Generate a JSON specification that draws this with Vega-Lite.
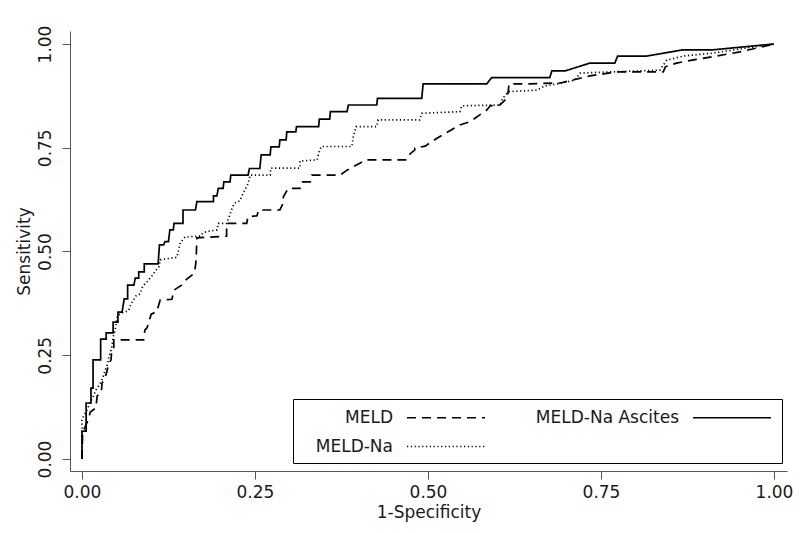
{
  "$schema": "https://vega.github.io/schema/vega-lite/v6.json",
  "width": 717,
  "height": 440,
  "autosize": {"type": "none"},
  "padding": {"left": 70, "top": 31, "right": 13, "bottom": 62},
  "background": "white",
  "config": {
    "view": {"stroke": null},
    "font": "DejaVu Sans",
    "axis": {
      "grid": false,
      "domainColor": "#555555",
      "tickColor": "#555555",
      "domainWidth": 1,
      "tickWidth": 1,
      "tickSize": 8,
      "labelFont": "DejaVu Sans",
      "labelFontSize": 17,
      "labelColor": "#1a1a1a",
      "titleFont": "DejaVu Sans",
      "titleFontSize": 17,
      "titleFontWeight": "normal",
      "titleColor": "#1a1a1a",
      "labelFlush": false,
      "labelOverlap": false
    }
  },
  "data": {
    "values": [
      {"series": "MELD-Na Ascites", "i": 0, "fpr": 0, "tpr": 0},
      {"series": "MELD-Na Ascites", "i": 1, "fpr": 0, "tpr": 0.067},
      {"series": "MELD-Na Ascites", "i": 2, "fpr": 0.006, "tpr": 0.067},
      {"series": "MELD-Na Ascites", "i": 3, "fpr": 0.006, "tpr": 0.135},
      {"series": "MELD-Na Ascites", "i": 4, "fpr": 0.013, "tpr": 0.135},
      {"series": "MELD-Na Ascites", "i": 5, "fpr": 0.013, "tpr": 0.171},
      {"series": "MELD-Na Ascites", "i": 6, "fpr": 0.016, "tpr": 0.171},
      {"series": "MELD-Na Ascites", "i": 7, "fpr": 0.016, "tpr": 0.239},
      {"series": "MELD-Na Ascites", "i": 8, "fpr": 0.027, "tpr": 0.239},
      {"series": "MELD-Na Ascites", "i": 9, "fpr": 0.027, "tpr": 0.289},
      {"series": "MELD-Na Ascites", "i": 10, "fpr": 0.035, "tpr": 0.289},
      {"series": "MELD-Na Ascites", "i": 11, "fpr": 0.035, "tpr": 0.304},
      {"series": "MELD-Na Ascites", "i": 12, "fpr": 0.045, "tpr": 0.304},
      {"series": "MELD-Na Ascites", "i": 13, "fpr": 0.045, "tpr": 0.33},
      {"series": "MELD-Na Ascites", "i": 14, "fpr": 0.052, "tpr": 0.33},
      {"series": "MELD-Na Ascites", "i": 15, "fpr": 0.052, "tpr": 0.354},
      {"series": "MELD-Na Ascites", "i": 16, "fpr": 0.058, "tpr": 0.354},
      {"series": "MELD-Na Ascites", "i": 17, "fpr": 0.061, "tpr": 0.386},
      {"series": "MELD-Na Ascites", "i": 18, "fpr": 0.066, "tpr": 0.386},
      {"series": "MELD-Na Ascites", "i": 19, "fpr": 0.066, "tpr": 0.419},
      {"series": "MELD-Na Ascites", "i": 20, "fpr": 0.075, "tpr": 0.419},
      {"series": "MELD-Na Ascites", "i": 21, "fpr": 0.077, "tpr": 0.436},
      {"series": "MELD-Na Ascites", "i": 22, "fpr": 0.082, "tpr": 0.436},
      {"series": "MELD-Na Ascites", "i": 23, "fpr": 0.082, "tpr": 0.451},
      {"series": "MELD-Na Ascites", "i": 24, "fpr": 0.09, "tpr": 0.451},
      {"series": "MELD-Na Ascites", "i": 25, "fpr": 0.09, "tpr": 0.47},
      {"series": "MELD-Na Ascites", "i": 26, "fpr": 0.11, "tpr": 0.47},
      {"series": "MELD-Na Ascites", "i": 27, "fpr": 0.112, "tpr": 0.516},
      {"series": "MELD-Na Ascites", "i": 28, "fpr": 0.118, "tpr": 0.516},
      {"series": "MELD-Na Ascites", "i": 29, "fpr": 0.12, "tpr": 0.524},
      {"series": "MELD-Na Ascites", "i": 30, "fpr": 0.125, "tpr": 0.524},
      {"series": "MELD-Na Ascites", "i": 31, "fpr": 0.127, "tpr": 0.552},
      {"series": "MELD-Na Ascites", "i": 32, "fpr": 0.132, "tpr": 0.552},
      {"series": "MELD-Na Ascites", "i": 33, "fpr": 0.133, "tpr": 0.568},
      {"series": "MELD-Na Ascites", "i": 34, "fpr": 0.146, "tpr": 0.568},
      {"series": "MELD-Na Ascites", "i": 35, "fpr": 0.146, "tpr": 0.6},
      {"series": "MELD-Na Ascites", "i": 36, "fpr": 0.164, "tpr": 0.6},
      {"series": "MELD-Na Ascites", "i": 37, "fpr": 0.166, "tpr": 0.62},
      {"series": "MELD-Na Ascites", "i": 38, "fpr": 0.19, "tpr": 0.62},
      {"series": "MELD-Na Ascites", "i": 39, "fpr": 0.19, "tpr": 0.634},
      {"series": "MELD-Na Ascites", "i": 40, "fpr": 0.195, "tpr": 0.634},
      {"series": "MELD-Na Ascites", "i": 41, "fpr": 0.197, "tpr": 0.652},
      {"series": "MELD-Na Ascites", "i": 42, "fpr": 0.204, "tpr": 0.652},
      {"series": "MELD-Na Ascites", "i": 43, "fpr": 0.205, "tpr": 0.668},
      {"series": "MELD-Na Ascites", "i": 44, "fpr": 0.214, "tpr": 0.668},
      {"series": "MELD-Na Ascites", "i": 45, "fpr": 0.215, "tpr": 0.684},
      {"series": "MELD-Na Ascites", "i": 46, "fpr": 0.24, "tpr": 0.684},
      {"series": "MELD-Na Ascites", "i": 47, "fpr": 0.242, "tpr": 0.7},
      {"series": "MELD-Na Ascites", "i": 48, "fpr": 0.257, "tpr": 0.7},
      {"series": "MELD-Na Ascites", "i": 49, "fpr": 0.259, "tpr": 0.733},
      {"series": "MELD-Na Ascites", "i": 50, "fpr": 0.272, "tpr": 0.733},
      {"series": "MELD-Na Ascites", "i": 51, "fpr": 0.273, "tpr": 0.752},
      {"series": "MELD-Na Ascites", "i": 52, "fpr": 0.285, "tpr": 0.752},
      {"series": "MELD-Na Ascites", "i": 53, "fpr": 0.286, "tpr": 0.769},
      {"series": "MELD-Na Ascites", "i": 54, "fpr": 0.295, "tpr": 0.769},
      {"series": "MELD-Na Ascites", "i": 55, "fpr": 0.296, "tpr": 0.788},
      {"series": "MELD-Na Ascites", "i": 56, "fpr": 0.309, "tpr": 0.788},
      {"series": "MELD-Na Ascites", "i": 57, "fpr": 0.31, "tpr": 0.801},
      {"series": "MELD-Na Ascites", "i": 58, "fpr": 0.342, "tpr": 0.801},
      {"series": "MELD-Na Ascites", "i": 59, "fpr": 0.343, "tpr": 0.819},
      {"series": "MELD-Na Ascites", "i": 60, "fpr": 0.358, "tpr": 0.819},
      {"series": "MELD-Na Ascites", "i": 61, "fpr": 0.359, "tpr": 0.837},
      {"series": "MELD-Na Ascites", "i": 62, "fpr": 0.383, "tpr": 0.837},
      {"series": "MELD-Na Ascites", "i": 63, "fpr": 0.385, "tpr": 0.853},
      {"series": "MELD-Na Ascites", "i": 64, "fpr": 0.426, "tpr": 0.853},
      {"series": "MELD-Na Ascites", "i": 65, "fpr": 0.427, "tpr": 0.869},
      {"series": "MELD-Na Ascites", "i": 66, "fpr": 0.491, "tpr": 0.869},
      {"series": "MELD-Na Ascites", "i": 67, "fpr": 0.493, "tpr": 0.904},
      {"series": "MELD-Na Ascites", "i": 68, "fpr": 0.585, "tpr": 0.904},
      {"series": "MELD-Na Ascites", "i": 69, "fpr": 0.592, "tpr": 0.919},
      {"series": "MELD-Na Ascites", "i": 70, "fpr": 0.676, "tpr": 0.919},
      {"series": "MELD-Na Ascites", "i": 71, "fpr": 0.679, "tpr": 0.935},
      {"series": "MELD-Na Ascites", "i": 72, "fpr": 0.698, "tpr": 0.935},
      {"series": "MELD-Na Ascites", "i": 73, "fpr": 0.734, "tpr": 0.954},
      {"series": "MELD-Na Ascites", "i": 74, "fpr": 0.77, "tpr": 0.954},
      {"series": "MELD-Na Ascites", "i": 75, "fpr": 0.774, "tpr": 0.971},
      {"series": "MELD-Na Ascites", "i": 76, "fpr": 0.816, "tpr": 0.971},
      {"series": "MELD-Na Ascites", "i": 77, "fpr": 0.869, "tpr": 0.986},
      {"series": "MELD-Na Ascites", "i": 78, "fpr": 0.912, "tpr": 0.986},
      {"series": "MELD-Na Ascites", "i": 79, "fpr": 1, "tpr": 1},

      {"series": "MELD", "i": 0, "fpr": 0, "tpr": 0},
      {"series": "MELD", "i": 1, "fpr": 0.001, "tpr": 0.065},
      {"series": "MELD", "i": 2, "fpr": 0.009, "tpr": 0.094},
      {"series": "MELD", "i": 3, "fpr": 0.012, "tpr": 0.113},
      {"series": "MELD", "i": 4, "fpr": 0.02, "tpr": 0.123},
      {"series": "MELD", "i": 5, "fpr": 0.022, "tpr": 0.152},
      {"series": "MELD", "i": 6, "fpr": 0.028, "tpr": 0.161},
      {"series": "MELD", "i": 7, "fpr": 0.029, "tpr": 0.183},
      {"series": "MELD", "i": 8, "fpr": 0.032, "tpr": 0.19},
      {"series": "MELD", "i": 9, "fpr": 0.036, "tpr": 0.21},
      {"series": "MELD", "i": 10, "fpr": 0.038, "tpr": 0.227},
      {"series": "MELD", "i": 11, "fpr": 0.042, "tpr": 0.239},
      {"series": "MELD", "i": 12, "fpr": 0.043, "tpr": 0.263},
      {"series": "MELD", "i": 13, "fpr": 0.046, "tpr": 0.268},
      {"series": "MELD", "i": 14, "fpr": 0.046, "tpr": 0.287},
      {"series": "MELD", "i": 15, "fpr": 0.089, "tpr": 0.287},
      {"series": "MELD", "i": 16, "fpr": 0.091, "tpr": 0.311},
      {"series": "MELD", "i": 17, "fpr": 0.094, "tpr": 0.316},
      {"series": "MELD", "i": 18, "fpr": 0.1, "tpr": 0.349},
      {"series": "MELD", "i": 19, "fpr": 0.108, "tpr": 0.355},
      {"series": "MELD", "i": 20, "fpr": 0.113, "tpr": 0.383},
      {"series": "MELD", "i": 21, "fpr": 0.13, "tpr": 0.385},
      {"series": "MELD", "i": 22, "fpr": 0.133, "tpr": 0.407},
      {"series": "MELD", "i": 23, "fpr": 0.144, "tpr": 0.419},
      {"series": "MELD", "i": 24, "fpr": 0.151, "tpr": 0.433},
      {"series": "MELD", "i": 25, "fpr": 0.159, "tpr": 0.443},
      {"series": "MELD", "i": 26, "fpr": 0.163, "tpr": 0.451},
      {"series": "MELD", "i": 27, "fpr": 0.165, "tpr": 0.48},
      {"series": "MELD", "i": 28, "fpr": 0.166, "tpr": 0.533},
      {"series": "MELD", "i": 29, "fpr": 0.202, "tpr": 0.536},
      {"series": "MELD", "i": 30, "fpr": 0.209, "tpr": 0.537},
      {"series": "MELD", "i": 31, "fpr": 0.209, "tpr": 0.568},
      {"series": "MELD", "i": 32, "fpr": 0.238, "tpr": 0.568},
      {"series": "MELD", "i": 33, "fpr": 0.24, "tpr": 0.584},
      {"series": "MELD", "i": 34, "fpr": 0.253, "tpr": 0.586},
      {"series": "MELD", "i": 35, "fpr": 0.255, "tpr": 0.6},
      {"series": "MELD", "i": 36, "fpr": 0.286, "tpr": 0.6},
      {"series": "MELD", "i": 37, "fpr": 0.291, "tpr": 0.617},
      {"series": "MELD", "i": 38, "fpr": 0.291, "tpr": 0.632},
      {"series": "MELD", "i": 39, "fpr": 0.298, "tpr": 0.652},
      {"series": "MELD", "i": 40, "fpr": 0.315, "tpr": 0.652},
      {"series": "MELD", "i": 41, "fpr": 0.318, "tpr": 0.668},
      {"series": "MELD", "i": 42, "fpr": 0.33, "tpr": 0.668},
      {"series": "MELD", "i": 43, "fpr": 0.332, "tpr": 0.684},
      {"series": "MELD", "i": 44, "fpr": 0.373, "tpr": 0.684},
      {"series": "MELD", "i": 45, "fpr": 0.383, "tpr": 0.696},
      {"series": "MELD", "i": 46, "fpr": 0.402, "tpr": 0.713},
      {"series": "MELD", "i": 47, "fpr": 0.411, "tpr": 0.721},
      {"series": "MELD", "i": 48, "fpr": 0.469, "tpr": 0.721},
      {"series": "MELD", "i": 49, "fpr": 0.474, "tpr": 0.735},
      {"series": "MELD", "i": 50, "fpr": 0.481, "tpr": 0.745},
      {"series": "MELD", "i": 51, "fpr": 0.481, "tpr": 0.749},
      {"series": "MELD", "i": 52, "fpr": 0.496, "tpr": 0.754},
      {"series": "MELD", "i": 53, "fpr": 0.513, "tpr": 0.773},
      {"series": "MELD", "i": 54, "fpr": 0.546, "tpr": 0.805},
      {"series": "MELD", "i": 55, "fpr": 0.561, "tpr": 0.813},
      {"series": "MELD", "i": 56, "fpr": 0.585, "tpr": 0.841},
      {"series": "MELD", "i": 57, "fpr": 0.59, "tpr": 0.851},
      {"series": "MELD", "i": 58, "fpr": 0.604, "tpr": 0.853},
      {"series": "MELD", "i": 59, "fpr": 0.614, "tpr": 0.869},
      {"series": "MELD", "i": 60, "fpr": 0.616, "tpr": 0.885},
      {"series": "MELD", "i": 61, "fpr": 0.617, "tpr": 0.904},
      {"series": "MELD", "i": 62, "fpr": 0.647, "tpr": 0.904},
      {"series": "MELD", "i": 63, "fpr": 0.691, "tpr": 0.906},
      {"series": "MELD", "i": 64, "fpr": 0.734, "tpr": 0.923},
      {"series": "MELD", "i": 65, "fpr": 0.773, "tpr": 0.933},
      {"series": "MELD", "i": 66, "fpr": 0.84, "tpr": 0.933},
      {"series": "MELD", "i": 67, "fpr": 0.843, "tpr": 0.945},
      {"series": "MELD", "i": 68, "fpr": 0.859, "tpr": 0.954},
      {"series": "MELD", "i": 69, "fpr": 0.888, "tpr": 0.963},
      {"series": "MELD", "i": 70, "fpr": 0.917, "tpr": 0.971},
      {"series": "MELD", "i": 71, "fpr": 0.951, "tpr": 0.981},
      {"series": "MELD", "i": 72, "fpr": 1, "tpr": 1},

      {"series": "MELD-Na", "i": 0, "fpr": 0, "tpr": 0},
      {"series": "MELD-Na", "i": 1, "fpr": 0, "tpr": 0.094},
      {"series": "MELD-Na", "i": 2, "fpr": 0.003, "tpr": 0.106},
      {"series": "MELD-Na", "i": 3, "fpr": 0.006, "tpr": 0.113},
      {"series": "MELD-Na", "i": 4, "fpr": 0.012, "tpr": 0.137},
      {"series": "MELD-Na", "i": 5, "fpr": 0.016, "tpr": 0.149},
      {"series": "MELD-Na", "i": 6, "fpr": 0.02, "tpr": 0.166},
      {"series": "MELD-Na", "i": 7, "fpr": 0.026, "tpr": 0.181},
      {"series": "MELD-Na", "i": 8, "fpr": 0.03, "tpr": 0.195},
      {"series": "MELD-Na", "i": 9, "fpr": 0.033, "tpr": 0.212},
      {"series": "MELD-Na", "i": 10, "fpr": 0.036, "tpr": 0.224},
      {"series": "MELD-Na", "i": 11, "fpr": 0.039, "tpr": 0.246},
      {"series": "MELD-Na", "i": 12, "fpr": 0.043, "tpr": 0.268},
      {"series": "MELD-Na", "i": 13, "fpr": 0.045, "tpr": 0.294},
      {"series": "MELD-Na", "i": 14, "fpr": 0.048, "tpr": 0.311},
      {"series": "MELD-Na", "i": 15, "fpr": 0.051, "tpr": 0.345},
      {"series": "MELD-Na", "i": 16, "fpr": 0.058, "tpr": 0.352},
      {"series": "MELD-Na", "i": 17, "fpr": 0.067, "tpr": 0.357},
      {"series": "MELD-Na", "i": 18, "fpr": 0.071, "tpr": 0.374},
      {"series": "MELD-Na", "i": 19, "fpr": 0.078, "tpr": 0.393},
      {"series": "MELD-Na", "i": 20, "fpr": 0.084, "tpr": 0.398},
      {"series": "MELD-Na", "i": 21, "fpr": 0.088, "tpr": 0.417},
      {"series": "MELD-Na", "i": 22, "fpr": 0.094, "tpr": 0.427},
      {"series": "MELD-Na", "i": 23, "fpr": 0.101, "tpr": 0.441},
      {"series": "MELD-Na", "i": 24, "fpr": 0.106, "tpr": 0.453},
      {"series": "MELD-Na", "i": 25, "fpr": 0.111, "tpr": 0.463},
      {"series": "MELD-Na", "i": 26, "fpr": 0.113, "tpr": 0.48},
      {"series": "MELD-Na", "i": 27, "fpr": 0.137, "tpr": 0.486},
      {"series": "MELD-Na", "i": 28, "fpr": 0.139, "tpr": 0.5},
      {"series": "MELD-Na", "i": 29, "fpr": 0.142, "tpr": 0.521},
      {"series": "MELD-Na", "i": 30, "fpr": 0.149, "tpr": 0.535},
      {"series": "MELD-Na", "i": 31, "fpr": 0.171, "tpr": 0.537},
      {"series": "MELD-Na", "i": 32, "fpr": 0.175, "tpr": 0.545},
      {"series": "MELD-Na", "i": 33, "fpr": 0.181, "tpr": 0.548},
      {"series": "MELD-Na", "i": 34, "fpr": 0.195, "tpr": 0.552},
      {"series": "MELD-Na", "i": 35, "fpr": 0.197, "tpr": 0.568},
      {"series": "MELD-Na", "i": 36, "fpr": 0.209, "tpr": 0.568},
      {"series": "MELD-Na", "i": 37, "fpr": 0.212, "tpr": 0.581},
      {"series": "MELD-Na", "i": 38, "fpr": 0.216, "tpr": 0.6},
      {"series": "MELD-Na", "i": 39, "fpr": 0.22, "tpr": 0.616},
      {"series": "MELD-Na", "i": 40, "fpr": 0.228, "tpr": 0.622},
      {"series": "MELD-Na", "i": 41, "fpr": 0.233, "tpr": 0.641},
      {"series": "MELD-Na", "i": 42, "fpr": 0.24, "tpr": 0.663},
      {"series": "MELD-Na", "i": 43, "fpr": 0.243, "tpr": 0.684},
      {"series": "MELD-Na", "i": 44, "fpr": 0.272, "tpr": 0.684},
      {"series": "MELD-Na", "i": 45, "fpr": 0.273, "tpr": 0.701},
      {"series": "MELD-Na", "i": 46, "fpr": 0.315, "tpr": 0.701},
      {"series": "MELD-Na", "i": 47, "fpr": 0.315, "tpr": 0.718},
      {"series": "MELD-Na", "i": 48, "fpr": 0.34, "tpr": 0.721},
      {"series": "MELD-Na", "i": 49, "fpr": 0.342, "tpr": 0.737},
      {"series": "MELD-Na", "i": 50, "fpr": 0.346, "tpr": 0.753},
      {"series": "MELD-Na", "i": 51, "fpr": 0.39, "tpr": 0.753},
      {"series": "MELD-Na", "i": 52, "fpr": 0.392, "tpr": 0.776},
      {"series": "MELD-Na", "i": 53, "fpr": 0.396, "tpr": 0.801},
      {"series": "MELD-Na", "i": 54, "fpr": 0.426, "tpr": 0.801},
      {"series": "MELD-Na", "i": 55, "fpr": 0.428, "tpr": 0.817},
      {"series": "MELD-Na", "i": 56, "fpr": 0.488, "tpr": 0.817},
      {"series": "MELD-Na", "i": 57, "fpr": 0.491, "tpr": 0.833},
      {"series": "MELD-Na", "i": 58, "fpr": 0.546, "tpr": 0.837},
      {"series": "MELD-Na", "i": 59, "fpr": 0.549, "tpr": 0.851},
      {"series": "MELD-Na", "i": 60, "fpr": 0.604, "tpr": 0.853},
      {"series": "MELD-Na", "i": 61, "fpr": 0.608, "tpr": 0.869},
      {"series": "MELD-Na", "i": 62, "fpr": 0.616, "tpr": 0.885},
      {"series": "MELD-Na", "i": 63, "fpr": 0.657, "tpr": 0.889},
      {"series": "MELD-Na", "i": 64, "fpr": 0.669, "tpr": 0.899},
      {"series": "MELD-Na", "i": 65, "fpr": 0.691, "tpr": 0.905},
      {"series": "MELD-Na", "i": 66, "fpr": 0.712, "tpr": 0.913},
      {"series": "MELD-Na", "i": 67, "fpr": 0.72, "tpr": 0.93},
      {"series": "MELD-Na", "i": 68, "fpr": 0.835, "tpr": 0.937},
      {"series": "MELD-Na", "i": 69, "fpr": 0.845, "tpr": 0.961},
      {"series": "MELD-Na", "i": 70, "fpr": 0.869, "tpr": 0.971},
      {"series": "MELD-Na", "i": 71, "fpr": 0.912, "tpr": 0.978},
      {"series": "MELD-Na", "i": 72, "fpr": 0.951, "tpr": 0.988},
      {"series": "MELD-Na", "i": 73, "fpr": 1, "tpr": 1}
    ]
  },
  "mark": {"type": "line", "color": "black", "strokeWidth": 1.7, "strokeCap": "butt", "strokeJoin": "miter"},
  "encoding": {
    "x": {
      "field": "fpr",
      "type": "quantitative",
      "scale": {"domain": [-0.0173, 1.0188], "nice": false, "zero": false},
      "axis": {
        "values": [0, 0.25, 0.5, 0.75, 1],
        "format": ".2f",
        "title": "1-Specificity",
        "labelPadding": 5,
        "titlePadding": 4
      }
    },
    "y": {
      "field": "tpr",
      "type": "quantitative",
      "scale": {"domain": [-0.0289, 1.0313], "nice": false, "zero": false},
      "axis": {
        "values": [0, 0.25, 0.5, 0.75, 1],
        "format": ".2f",
        "title": "Sensitivity",
        "labelAngle": 270,
        "labelAlign": "center",
        "labelBaseline": "bottom",
        "labelPadding": 8,
        "titlePadding": 3
      }
    },
    "strokeDash": {
      "field": "series",
      "type": "nominal",
      "scale": {
        "domain": ["MELD", "MELD-Na", "MELD-Na Ascites"],
        "range": [[9, 6], [1.2, 2.6], [1, 0]]
      },
      "legend": {
        "title": null,
        "orient": "none",
        "direction": "vertical",
        "legendX": 223,
        "legendY": 368,
        "columns": 2,
        "symbolType": "M-4,0H4",
        "symbolSize": 380,
        "symbolStrokeWidth": 1.5,
        "symbolStrokeColor": "black",
        "symbolFillColor": "transparent",
        "rowPadding": 10,
        "columnPadding": 47,
        "padding": 8,
        "strokeColor": "black",
        "labelAlign": "right",
        "labelOffset": -63.5,
        "symbolOffset": 134.5,
        "labelFont": "DejaVu Sans",
        "labelFontSize": 17,
        "labelColor": "#1a1a1a",
        "labelLimit": 300
      }
    },
    "order": {"field": "i", "type": "quantitative"}
  }
}
